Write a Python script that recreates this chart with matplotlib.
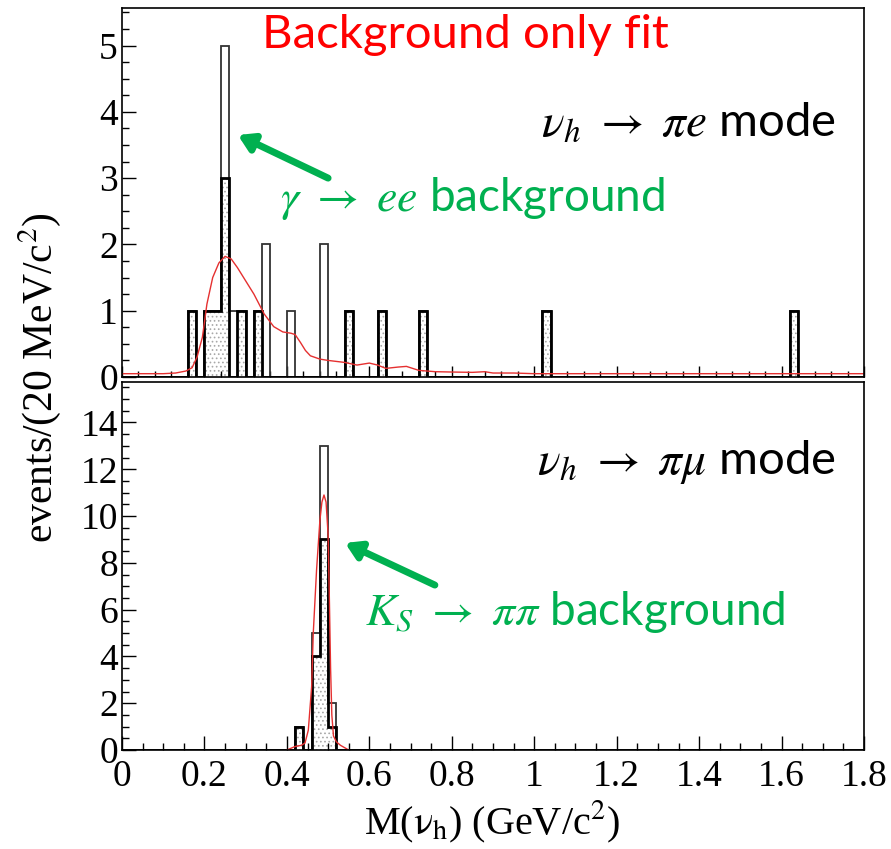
import numpy as np
import matplotlib.pyplot as plt
from matplotlib.ticker import MultipleLocator, FormatStrFormatter

plt.rcParams['mathtext.fontset'] = 'stix'
plt.rcParams['hatch.linewidth'] = 0.7

# Data: bin centres (GeV) and counts, 20 MeV bins
pie_centers = [0.17, 0.21, 0.23, 0.25, 0.27, 0.29, 0.33, 0.35, 0.41, 0.49, 0.55, 0.63, 0.73, 1.03, 1.63]
pie_all = [1, 1, 1, 5, 1, 1, 1, 2, 1, 2, 1, 1, 1, 1, 1]
pie_sel_centers = [0.17, 0.21, 0.23, 0.25, 0.29, 0.33, 0.55, 0.63, 0.73, 1.03, 1.63]
pie_sel = [1, 1, 1, 3, 1, 1, 1, 1, 1, 1, 1]

pimu_centers = [0.43, 0.47, 0.49, 0.51]
pimu_all = [1, 5, 13, 2]
pimu_sel = [1, 4, 9, 1]

# background-only fit curves
fit_e_x = [0.0, 0.05, 0.10, 0.13, 0.155, 0.17, 0.182, 0.195, 0.206, 0.22, 0.235, 0.25, 0.265,
           0.28, 0.30, 0.32, 0.345, 0.368, 0.39, 0.41, 0.42, 0.433, 0.445, 0.457, 0.48, 0.50,
           0.54, 0.57, 0.60, 0.62, 0.64, 0.67, 0.69, 0.72, 0.76, 0.80, 0.85, 0.88, 0.90, 0.95,
           1.0, 1.2, 1.4, 1.6, 1.8]
fit_e_y = [0.05, 0.05, 0.05, 0.06, 0.09, 0.14, 0.3, 0.6, 1.1, 1.5, 1.72, 1.82, 1.78,
           1.65, 1.45, 1.25, 0.95, 0.76, 0.68, 0.66, 0.64, 0.52, 0.4, 0.32, 0.27, 0.25,
           0.22, 0.18, 0.21, 0.18, 0.13, 0.15, 0.16, 0.1, 0.08, 0.075, 0.07, 0.08, 0.06, 0.06,
           0.05, 0.05, 0.05, 0.05, 0.05]
fit_mu_x = [0.40, 0.42, 0.435, 0.444, 0.452, 0.46, 0.464, 0.472, 0.48, 0.485, 0.49, 0.495,
            0.50, 0.503, 0.506, 0.509, 0.513, 0.52, 0.53, 0.54, 0.55]
fit_mu_y = [0.0, 0.15, 0.2, 0.3, 0.85, 2.7, 5.0, 7.7, 9.8, 10.6, 10.9, 10.6,
            9.2, 6.5, 3.5, 1.5, 0.6, 0.35, 0.2, 0.1, 0.0]

edges = np.round(np.arange(0, 1.8001, 0.02), 2)
green = '#00b050'

fig = plt.figure(figsize=(8.91, 8.49), dpi=100)
W, H = 891, 849
ax1 = fig.add_axes([122 / W, 1 - 377 / H, 742 / W, 369 / H])
ax2 = fig.add_axes([122 / W, 1 - 750 / H, 742 / W, 368 / H])


def draw_hists(ax, c_all, v_all, c_sel, v_sel):
    ax.hist(c_sel, bins=edges, weights=v_sel, histtype='stepfilled', facecolor='white',
            edgecolor='#a8a8a8', hatch='....', linewidth=0)
    ax.hist(c_all, bins=edges, weights=v_all, histtype='step', color='#333333', linewidth=1.3)
    ax.hist(c_sel, bins=edges, weights=v_sel, histtype='step', color='black', linewidth=2.0)


draw_hists(ax1, pie_centers, pie_all, pie_sel_centers, pie_sel)
ax1.plot(fit_e_x, fit_e_y, color='#e53030', linewidth=1.0)
draw_hists(ax2, pimu_centers, pimu_all, pimu_centers, pimu_sel)
ax2.plot(fit_mu_x, fit_mu_y, color='#e53030', linewidth=1.0)

ax1.set_xlim(0, 1.8)
ax1.set_ylim(0, 5.566)
ax2.set_xlim(0, 1.8)
ax2.set_ylim(0, 15.73)

for ax in (ax1, ax2):
    for s in ax.spines.values():
        s.set_linewidth(1.2)
    ax.xaxis.set_major_locator(MultipleLocator(0.2))
    ax.xaxis.set_major_formatter(FormatStrFormatter('%g'))
    ax.tick_params(which='both', direction='in', top=False, right=False, width=1.0,
                   labelsize=27)
    ax.tick_params(which='major', length=10)
    ax.tick_params(which='minor', length=5)
    for lab in ax.get_xticklabels() + ax.get_yticklabels():
        lab.set_family('Liberation Serif')

ax1.xaxis.set_minor_locator(MultipleLocator(0.04))
ax1.yaxis.set_major_locator(MultipleLocator(1))
ax1.yaxis.set_minor_locator(MultipleLocator(0.25))
ax1.tick_params(axis='x', labelbottom=False)
ax1.tick_params(axis='x', which='major', length=8)
ax1.tick_params(axis='x', which='minor', length=4)

ax2.xaxis.set_minor_locator(MultipleLocator(0.05))
ax2.yaxis.set_major_locator(MultipleLocator(2))
ax2.yaxis.set_minor_locator(MultipleLocator(0.5))
ax2.tick_params(axis='x', pad=7)
ax2.tick_params(axis='y', pad=3)
ax1.tick_params(axis='y', pad=3)

fig.text(40 / W, 1 - 378 / H, r'events/(20 MeV/c$^{2}$)', rotation=90, ha='center', va='center',
         family='Liberation Serif', fontsize=30)
fig.text(492 / W, 1 - 822 / H, r'M($\mathrm{\nu_h}$) (GeV/c$^{2}$)', ha='center', va='center',
         family='Liberation Serif', fontsize=29)

# annotations
fig.text(465 / W, 1 - 35 / H, 'Background only fit', color='red', ha='center', va='center',
         family='Lato', fontsize=34)
fig.text(836 / W, 1 - 122 / H, r'$\nu_h\ \rightarrow\ \pi e$ mode', color='black', ha='right',
         va='center', family='Lato', fontsize=34)
fig.text(836 / W, 1 - 462 / H, r'$\nu_h\ \rightarrow\ \pi\mu$ mode', color='black', ha='right',
         va='center', family='Lato', fontsize=34)
fig.text(280 / W, 1 - 198 / H, r'$\gamma\ \rightarrow\ ee$ background', color=green, ha='left',
         va='center', family='Lato', fontsize=33)
fig.text(365 / W, 1 - 612 / H, r'$K_S\ \rightarrow\ \pi\pi$ background', color=green, ha='left',
         va='center', family='Lato', fontsize=33)

arrow_kw = dict(arrowstyle='-|>,head_length=0.9,head_width=0.55', color=green, lw=5,
                shrinkA=0, shrinkB=0)
ax1.annotate('', xy=(0.281, 3.65), xytext=(0.50, 3.0), arrowprops=arrow_kw)
ax2.annotate('', xy=(0.541, 8.85), xytext=(0.759, 7.05), arrowprops=arrow_kw)

fig.savefig('out.png', dpi=100)
